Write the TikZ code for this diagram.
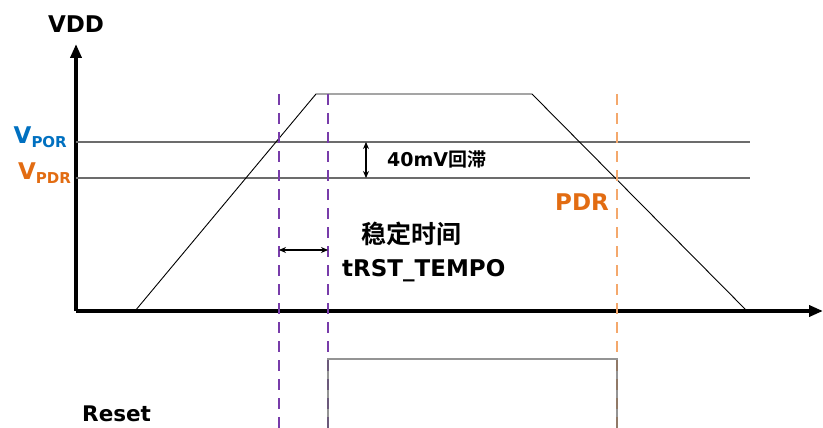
\documentclass[tikz,border=0pt]{standalone}
\usepackage{fontspec}
\setmainfont{DejaVu Sans}
\newfontfamily\cjkfont{Noto Sans CJK SC}[BoldFont={Noto Sans CJK SC Bold}]
\usepackage{xcolor}
\definecolor{porblue}{RGB}{0,112,192}
\definecolor{pdrorange}{RGB}{226,108,18}
\definecolor{pdrdash}{RGB}{244,168,108}
\definecolor{rstpurple}{RGB}{120,60,170}
\usetikzlibrary{arrows.meta, positioning}

\begin{document}
\begin{tikzpicture}[x=1pt, y=-1pt,
  axis/.style={line width=3.6pt, -{Triangle[length=14pt, width=11pt]}},
  level/.style={draw=gray!85!black, line width=1.3pt},
  signal/.style={draw=black, line width=0.9pt},
  pulse/.style={draw=gray!80!black, line width=1.4pt},
  tmark/.style={dashed, dash pattern=on 11pt off 8pt, line width=1.5pt},
  span/.style={{Stealth[length=7pt, width=6pt]}-{Stealth[length=7pt, width=6pt]}, line width=1.1pt},
  lbl/.style={inner sep=0pt, font=\bfseries\fontsize{23}{23}\selectfont},
  small/.style={inner sep=0pt, font=\bfseries\fontsize{19}{19}\selectfont}
]
\useasboundingbox (0,0) rectangle (823,428);
% axes
\coordinate (o) at (76,311);
\coordinate (ytip) at (76,44);
\coordinate (xtip) at (823,311);
\draw[axis] (o) -- (ytip);
\draw[axis] (o) -- (xtip);
\node[lbl, anchor=base] (vdd) at (76,33) {VDD};
% threshold levels
\coordinate (por0) at (76,142);  \coordinate (por1) at (750,142);
\coordinate (pdr0) at (76,178);  \coordinate (pdr1) at (750,178);
\draw[level] (por0) -- (por1);
\draw[level] (pdr0) -- (pdr1);
\node[lbl, anchor=base east, text=porblue] (vpor) at (67,143)
  {V\raisebox{-4pt}{\fontsize{15}{15}\selectfont POR}};
\node[lbl, anchor=base east, text=pdrorange] (vpdr) at (71,179)
  {V\raisebox{-4pt}{\fontsize{15}{15}\selectfont PDR}};
% supply ramp
\coordinate (r0) at (135,311);
\coordinate (r1) at (316,94);
\coordinate (f1) at (532,94);
\coordinate (f0) at (747,311);
\draw[signal] (r0) -- (r1) -- (f1) -- (f0);
% time markers
\coordinate (ta0) at (279,94);  \coordinate (ta1) at (279,428);
\coordinate (tb0) at (328,94);  \coordinate (tb1) at (328,428);
\coordinate (tc0) at (617,94);  \coordinate (tc1) at (617,428);
\draw[tmark, rstpurple] (ta0) -- (ta1);
\draw[tmark, rstpurple] (tb0) -- (tb1);
\draw[tmark, pdrdash] (tc0) -- (tc1);
% reset pulse
\coordinate (p0) at (328,428);
\coordinate (p1) at (328,359);
\coordinate (p2) at (617,359);
\coordinate (p3) at (617,428);
\draw[pulse, draw opacity=0.7] (p0) -- (p1) -- (p2) -- (p3);
% hysteresis and delay
\coordinate (h0) at (366,142);  \coordinate (h1) at (366,178);
\draw[span] (h0) -- (h1);
\node[small, anchor=base west] (hyst) at (387,166) {40mV{\cjkfont 回滞}};
\coordinate (d0) at (279,250);  \coordinate (d1) at (328,250);
\draw[span] (d0) -- (d1);
\node[inner sep=0pt, anchor=base west, font=\cjkfont\bfseries\fontsize{25}{25}\selectfont]
  (stab) at (361,243) {稳定时间};
\node[lbl, anchor=base west] (trst) at (342,276) {tRST\_TEMPO};
\node[lbl, anchor=base, text=pdrorange] (pdr) at (582,210) {PDR};
\node[lbl, anchor=base west, font=\bfseries\fontsize{21.5}{21.5}\selectfont] (rst) at (82,421) {Reset};
\end{tikzpicture}
\end{document}
